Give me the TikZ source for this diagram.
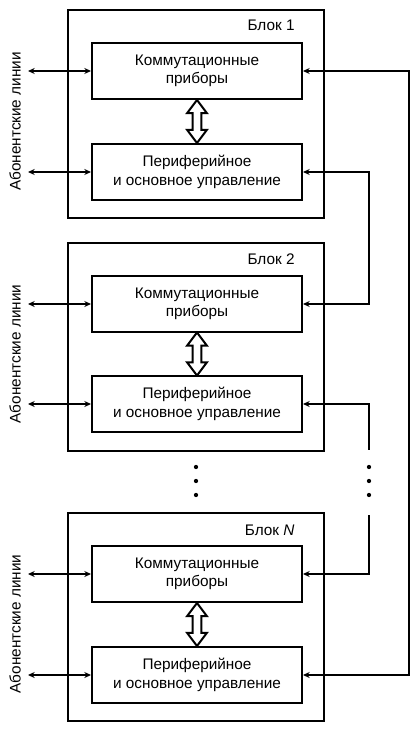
\documentclass[tikz,border=0pt]{standalone}
\usepackage{fontspec}
\setmainfont{Liberation Sans}
\usetikzlibrary{arrows.meta,shapes.arrows,calc}

\begin{document}
\begin{tikzpicture}[x=0.75pt, y=-0.75pt, line width=1.5pt,
	font=\fontsize{11.5}{13.7}\selectfont,
	>={Stealth[length=5pt, width=4.5pt]},
	blok/.style={draw, rectangle, minimum width=192pt, minimum height=156pt},
	pribor/.style={draw, rectangle, minimum width=157.5pt, minimum height=42pt, align=center},
	liniya/.style={<->},
	dvoin/.style={draw, double arrow, rotate=90, inner xsep=0pt, inner ysep=2.6pt, minimum height=32.25pt, double arrow head extend=4.1pt, double arrow tip angle=74},
	tochka/.style={circle, fill, inner sep=0pt, minimum size=3.2pt}]
				\useasboundingbox (0,0) rectangle (420,734);
				% block 1
				\node[blok] (blk1)at(196, 114) {};
				\node[pribor] (kp1)at(197, 71) {Коммутационные\\приборы};
				\node[pribor] (pu1)at(197, 172) {Периферийное\\и основное управление};
				\node[anchor=base east] (lb1)at(300, 30.5) {Блок 1};
				\node[rotate=90] (al1)at(15, 121.5) {Абонентские линии};
				\coordinate (l1a)at(28, 71);
				\coordinate (l1b)at(28, 172);
				\draw[liniya] (l1a) -- (kp1);
				\draw[liniya] (l1b) -- (pu1);
				\node[dvoin] (dv1)at($(kp1.south)!0.5!(pu1.north)$) {};
				% block 2
				\node[blok] (blk2)at(196, 347) {};
				\node[pribor] (kp2)at(197, 304) {Коммутационные\\приборы};
				\node[pribor] (pu2)at(197, 404) {Периферийное\\и основное управление};
				\node[anchor=base east] (lb2)at(300, 264) {Блок 2};
				\node[rotate=90] (al2)at(15, 354) {Абонентские линии};
				\coordinate (l2a)at(28, 304);
				\coordinate (l2b)at(28, 404);
				\draw[liniya] (l2a) -- (kp2);
				\draw[liniya] (l2b) -- (pu2);
				\node[dvoin] (dv2)at($(kp2.south)!0.5!(pu2.north)$) {};
				% block N
				\node[blok] (blkN)at(196, 617) {};
				\node[pribor] (kpN)at(197, 574) {Коммутационные\\приборы};
				\node[pribor] (puN)at(197, 675) {Периферийное\\и основное управление};
				\node[anchor=base east] (lbN)at(300, 535) {Блок \textit{N}};
				\node[rotate=90] (alN)at(15, 624) {Абонентские линии};
				\coordinate (lNa)at(28, 574);
				\coordinate (lNb)at(28, 675);
				\draw[liniya] (lNa) -- (kpN);
				\draw[liniya] (lNb) -- (puN);
				\node[dvoin] (dvN)at($(kpN.south)!0.5!(puN.north)$) {};
				% ring between blocks
				\coordinate (kol1)at(369, 0);
				\coordinate (kol2)at(409, 0);
				\coordinate (obr2)at(369, 450);
				\coordinate (obrN)at(369, 515);
				\draw[liniya] (pu1.east) -- (pu1.east -| kol1) |- (kp2.east);
				\draw[<-] (pu2.east) -| (obr2);
				\draw[->] (obrN) |- (kpN.east);
				\draw[liniya] (puN.east) -- (puN.east -| kol2) |- (kp1.east);
				% dots
				\node[tochka] (t1)at(196, 467) {};
				\node[tochka] (t2)at(196, 481) {};
				\node[tochka] (t3)at(196, 495) {};
				\node[tochka] (t4)at(369, 467) {};
				\node[tochka] (t5)at(369, 481) {};
				\node[tochka] (t6)at(369, 495) {};
			\end{tikzpicture}
\end{document}
